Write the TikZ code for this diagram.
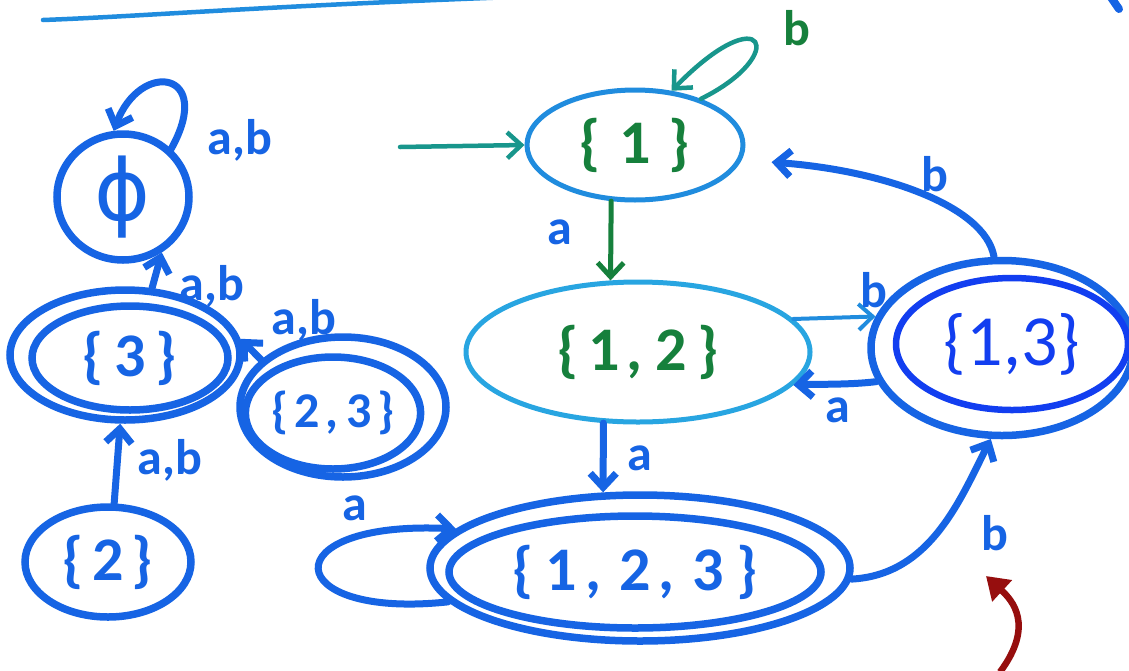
\documentclass[tikz,border=0pt]{standalone}
\usepackage{fontspec}
\setmainfont{Carlito}
\newfontfamily\symfont{DejaVu Sans}
\usetikzlibrary{shapes.geometric,arrows.meta}

\definecolor{mblue}{RGB}{22,100,228}
\definecolor{lblue}{RGB}{32,140,222}
\definecolor{cyanblue}{RGB}{40,165,225}
\definecolor{mgreen}{RGB}{22,128,60}
\definecolor{tealc}{RGB}{24,150,140}
\definecolor{tblue}{RGB}{18,62,240}
\definecolor{darkred}{RGB}{150,14,14}

\newcommand{\gap}[1]{\hspace{#1pt}}

\tikzset{
  state/.style={ellipse, draw=mblue, line width=7.5pt, inner sep=0pt,
    text=mblue, font=\fontsize{62}{70}\selectfont\bfseries},
  ring/.style={ellipse, draw=mblue, line width=7.5pt, inner sep=0pt},
  greenstate/.style={state, text=mgreen, line width=5pt},
  typeset/.style={state, draw=tblue, text=tblue, line width=6.5pt,
    font=\fontsize{72}{80}\selectfont},
  edge/.style={draw=mblue, line width=7pt, line cap=round,
    -{Straight Barb[length=14pt,width=26pt]}},
  thinedge/.style={edge, line width=4pt, draw=lblue},
  tedge/.style={edge, line width=4.5pt, draw=tealc},
  lbl/.style={text=mblue, font=\fontsize{50}{56}\selectfont\bfseries},
  redarrow/.style={draw=darkred, line width=6.5pt,
    -{Triangle[length=22pt,width=28pt]}},
  rule/.style={draw=lblue, line width=4.5pt, line cap=round}
}

\begin{document}
\begin{tikzpicture}[x=1pt,y=-1pt]
\useasboundingbox (0,0) rectangle (1129,670);
\fill[white] (0,0) rectangle (1129,670);

% rule across the top
\coordinate (r0) at (43,20);
\coordinate (r1) at (540,-4);
\draw[rule] (r0) .. controls (150,16) and (260,6) .. (r1);
\coordinate (m0) at (1110,-4);
\coordinate (m1) at (1119,9);
\draw[draw=mblue, line width=8pt, line cap=round] (m0) -- (m1);

% left group
\node[state, minimum width=132pt, minimum height=126pt] (phi) at (123,197)
  {\fontsize{85}{90}\selectfont\mdseries\symfont ϕ};
\node[ring, minimum width=230pt, minimum height=130pt] (s3o) at (125,355) {};
\node[state, minimum width=196pt, minimum height=104pt] (s3) at (130,358)
  {\{\gap{10}3\gap{10}\}};
\node[ring, minimum width=206pt, minimum height=140pt] (s23o) at (343,407) {};
\node[state, minimum width=170pt, minimum height=112pt,
      font=\fontsize{50}{56}\selectfont\bfseries] (s23) at (333,413)
  {\{\gap{6}2\gap{6},\gap{8}3\gap{6}\}};
\node[state, minimum width=166pt, minimum height=110pt] (s2) at (108,562)
  {\{\gap{8}2\gap{8}\}};

% right group
\node[greenstate, draw=lblue, minimum width=216pt, minimum height=110pt] (s1) at (635,145)
  {\{\gap{18}1\gap{18}\}};
\node[greenstate, draw=cyanblue, minimum width=344pt, minimum height=140pt] (s12) at (638,352)
  {\{\gap{10}1\gap{6},\gap{14}2\gap{10}\}};
\node[ring, minimum width=262pt, minimum height=175pt] (s13o) at (1002,348) {};
\node[typeset, minimum width=232pt, minimum height=132pt] (s13) at (1012,344) {\{1,3\}};
\node[ring, minimum width=420pt, minimum height=146pt] (s123o) at (640,568) {};
\node[state, minimum width=372pt, minimum height=112pt] (s123) at (635,572)
  {\{\gap{12}1\gap{8},\gap{18}2\gap{8},\gap{18}3\gap{12}\}};

% start arrow and loop on {1}
\coordinate (init) at (400,147);
\draw[tedge] (init) -- (s1.west);
\draw[tedge] (s1.35) .. controls (790,55) and (765,-5) .. (s1.56);
\node[lbl, text=mgreen] (lb1) at (797,28) {b};

% transitions of {1} and {1,2}
\draw[edge, draw=mgreen, line width=5pt] (s1.-113) -- (s12.111);
\node[lbl] (la1) at (560,232) {a};
\draw[thinedge] (s12.12) -- (s13o.166);
\node[lbl] (lb12) at (874,290) {b};
\draw[edge] (s12.-116) -- (s123o.116);
\node[lbl] (la12) at (640,458) {a};

% transitions of {1,3}
\draw[edge] (s13o.195) .. controls (850,385) and (815,384) .. (s12.-12);
\node[lbl] (la13) at (838,410) {a};
\draw[edge, shorten >=30pt] (s13o.95) .. controls (985,205) and (880,170) .. (s1.-8);
\node[lbl] (lb13) at (935,174) {b};

% transitions of {1,2,3}
\draw[edge] (s123o.190) .. controls (280,620) and (270,520) .. (s123o.168);
\node[lbl] (la123) at (355,508) {a};
\draw[edge] (s123o.-3) .. controls (930,575) and (960,500) .. (s13o.-97);
\node[lbl] (lb123) at (995,533) {b};

% transitions of the left group
\draw[edge] (s3o.68) -- (phi.-55);
\node[lbl] (lab3) at (212,286) {a,b};
\draw[edge] (phi.45) .. controls (215,70) and (140,60) .. (phi.98);
\node[lbl] (labphi) at (240,140) {a,b};
\draw[edge] (s23o.150) -- (s3o.8);
\node[lbl] (lab23) at (304,320) {a,b};
\draw[edge] (s2.84) -- (s3o.-94);
\node[lbl] (lab2) at (170,460) {a,b};

% pointer
\coordinate (p0) at (1000,672);
\coordinate (p1) at (986,576);
\draw[redarrow] (p0) .. controls (1035,625) and (1012,600) .. (p1);
\end{tikzpicture}
\end{document}
